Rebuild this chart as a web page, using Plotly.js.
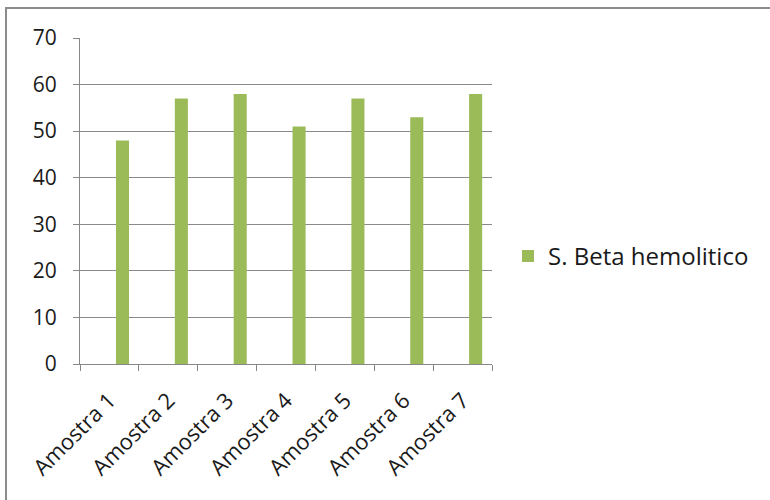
<!DOCTYPE html>
<html>
<head>
<meta charset="utf-8">
<script src="https://cdn.plot.ly/plotly-3.0.1.min.js"></script>
<style>
html,body{margin:0;padding:0;background:#fff;overflow:hidden;}
#frame{position:absolute;left:5px;top:7px;width:900px;height:700px;border-left:2px solid #8c8c8c;border-top:2px solid #8c8c8c;}
#chart{position:absolute;left:0;top:0;width:770px;height:500px;}
</style>
</head>
<body>
<div id="frame"></div>
<div id="chart"></div>
<script>
const categories = ["Amostra 1","Amostra 2","Amostra 3","Amostra 4","Amostra 5","Amostra 6","Amostra 7"];
const seriesName = "S. Beta hemolitico";
const values = [48, 57, 58, 51, 57, 53, 58];
const yTicks = [0,10,20,30,40,50,60,70];

const trace = {
  type: "bar",
  x: categories,
  y: values,
  name: seriesName,
  marker: {color: "#9bbb59"},
  width: 0.222,
  offset: 0.111,
  showlegend: true
};

const layout = {
  width: 770, height: 500,
  margin: {l: 80, r: 278, t: 38, b: 136},
  paper_bgcolor: "rgba(0,0,0,0)",
  plot_bgcolor: "rgba(0,0,0,0)",
  font: {family: "Open Sans, Liberation Sans, sans-serif", color: "#1a1a1a"},
  xaxis: {
    tickangle: -45,
    ticks: "outside", ticklen: 6, tickcolor: "#888",
    tickson: "boundaries",
    showline: true, linecolor: "#888", linewidth: 1,
    tickfont: {size: 22, color: "#1a1a1a"},
    ticklabelstandoff: 14,
    showgrid: false
  },
  yaxis: {
    range: [0, 70],
    tickvals: yTicks,
    ticks: "outside", ticklen: 6, tickcolor: "#888",
    showline: true, linecolor: "#888", linewidth: 1,
    showgrid: true, gridcolor: "#8a8a8a", gridwidth: 1,
    zeroline: false,
    tickfont: {size: 21, color: "#1a1a1a"},
    ticklabelstandoff: 12
  },
  legend: {
    x: (508 - 80) / 412, xanchor: "left", y: 0.33, yanchor: "middle",
    font: {size: 24, color: "#1a1a1a"},
    bgcolor: "rgba(0,0,0,0)"
  },
  showlegend: true
};

Plotly.newPlot("chart", [trace], layout, {displayModeBar: false, staticPlot: true});
</script>
</body>
</html>
